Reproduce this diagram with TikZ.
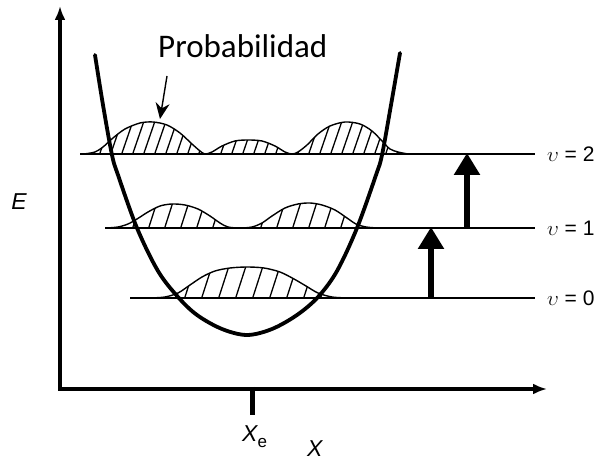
\documentclass[tikz,border=0pt]{standalone}
\usepackage{fontspec}
\setmainfont{Liberation Sans}
\newfontfamily\carlitofont{Carlito}
\usetikzlibrary{arrows.meta}
\begin{document}
\begin{tikzpicture}[x=1pt,y=-1pt,
  axis/.style={line width=3.5pt,line join=miter},
  levelline/.style={line width=2pt},
  prob/.style={line width=1.4pt},
  hatch/.style={line width=1.3pt},
  well/.style={line width=3.8pt},
  trans/.style={line width=6pt,-{Triangle[length=22pt,width=25pt]}},
  lab/.style={font=\fontsize{21}{21}\selectfont,anchor=west,inner sep=0pt},
  axlab/.style={font=\itshape\fontsize{23}{23}\selectfont,inner sep=0pt}]
\useasboundingbox (0,0) rectangle (600,462);
% axes
\coordinate (O) at (60,389);
\coordinate (ytop) at (60,6);
\coordinate (xend) at (547,389);
\draw[axis,{Latex[length=14pt,width=11pt]}-{Latex[length=14pt,width=11pt]}] (ytop) -- (O) -- (xend);
\coordinate (tickA) at (252,387);
\coordinate (tickB) at (252,415);
\draw[line width=5pt] (tickA) -- (tickB);
\node[axlab] (E) at (19,202) {E};
\node[axlab,anchor=base west] (Xe) at (242,441) {X\raisebox{-6pt}{\upshape\fontsize{17}{17}\selectfont e}};
\node[axlab,anchor=base west] (X) at (307,456) {X};
% level labels
\node[lab] (l2) at (547,154) {$\upsilon$ = 2};
\node[lab] (l1) at (547,228) {$\upsilon$ = 1};
\node[lab] (l0) at (547,298) {$\upsilon$ = 0};
\coordinate (s2) at (80,154);
\coordinate (s1) at (105,228);
\coordinate (s0) at (130,298);
\coordinate (e2) at (535,154);
\coordinate (e1) at (535,228);
\coordinate (e0) at (535,298);
\draw[levelline] (s2) -- (e2);
\draw[levelline] (s1) -- (e1);
\draw[levelline] (s0) -- (e0);
% transitions
\coordinate (a0) at (431,298);
\coordinate (a1) at (431,227);
\coordinate (b1) at (467,228);
\coordinate (b2) at (467,153);
\draw[trans] (a0) -- (a1);
\draw[trans] (b1) -- (b2);
% v=2 density
\begin{scope}
\clip plot[smooth] coordinates {(84,154) (95,152) (103,147) (113,138) (125,129) (140,123) (153,122) (167,125) (180,133) (192,144) (200,151) (205,154) (212,152) (222,146) (235,141) (248,140) (262,141) (275,146) (285,152) (292,154) (298,152) (307,145) (318,134) (330,126) (345,122) (360,124) (372,131) (383,142) (390,149) (398,152) (408,154)} -- cycle;
\foreach \x in {66,77,...,420} \draw[hatch] (\x,156) -- ++(12,-35);
\end{scope}
\draw[prob] plot[smooth] coordinates {(84,154) (95,152) (103,147) (113,138) (125,129) (140,123) (153,122) (167,125) (180,133) (192,144) (200,151) (205,154) (212,152) (222,146) (235,141) (248,140) (262,141) (275,146) (285,152) (292,154) (298,152) (307,145) (318,134) (330,126) (345,122) (360,124) (372,131) (383,142) (390,149) (398,152) (408,154)};
% v=1 density
\begin{scope}
\clip plot[smooth] coordinates {(106,228) (118,227) (128,224) (137,219) (148,212) (160,206) (172,204) (185,205) (198,209) (210,216) (220,223) (228,227) (240,228) (252,227) (262,223) (272,216) (285,208) (298,204) (310,203) (322,205) (335,210) (347,218) (356,224) (366,227) (378,228)} -- cycle;
\foreach \x in {100,116,...,400} \draw[hatch] (\x,230) -- ++(9,-28);
\end{scope}
\draw[prob] plot[smooth] coordinates {(106,228) (118,227) (128,224) (137,219) (148,212) (160,206) (172,204) (185,205) (198,209) (210,216) (220,223) (228,227) (240,228) (252,227) (262,223) (272,216) (285,208) (298,204) (310,203) (322,205) (335,210) (347,218) (356,224) (366,227) (378,228)};
% v=0 density
\begin{scope}
\clip plot[smooth] coordinates {(150,298) (165,297) (178,293) (190,285) (202,277) (215,271) (230,268) (247,267) (264,268) (280,272) (294,279) (306,286) (318,293) (332,297) (348,298)} -- cycle;
\foreach \x in {150,167,...,360} \draw[hatch] (\x,300) -- ++(11,-34);
\end{scope}
\draw[prob] plot[smooth] coordinates {(150,298) (165,297) (178,293) (190,285) (202,277) (215,271) (230,268) (247,267) (264,268) (280,272) (294,279) (306,286) (318,293) (332,297) (348,298)};
% potential well
\draw[well,line cap=round] plot[smooth,tension=0.55] coordinates {(95,55) (103,105) (112,155) (118,175) (137,228) (158,271) (178,297) (197,315) (222,329) (247,335) (272,329) (297,315) (318,297) (337,271) (357,228) (376,175) (382,155) (391,105) (400,53)};
% probability label
\node[font=\carlitofont\fontsize{33}{33}\selectfont,anchor=base west,inner sep=0pt] (pt) at (158,58) {Probabilidad};
\coordinate (pstart) at (167,76);
\coordinate (ptip) at (160,119);
\draw[line width=1.4pt,-{Stealth[length=16pt,width=14pt]}] (pstart) -- (ptip);
\end{tikzpicture}
\end{document}
